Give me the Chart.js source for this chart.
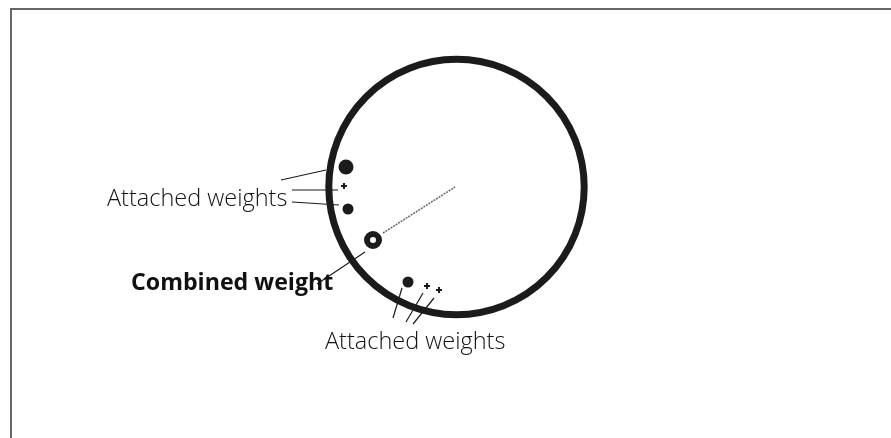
<!DOCTYPE html>
<html>
<head>
<meta charset="utf-8">
<script src="https://cdn.jsdelivr.net/npm/chart.js@4"></script>
<style>
html, body { margin: 0; padding: 0; background: #fff; overflow: hidden; }
#frame { position: absolute; left: 10px; top: 8px; width: 881px; height: 430px; border-top: 2px solid #666; border-left: 2px solid #666; box-sizing: border-box; }
#wrap { position: absolute; left: 0; top: 0; width: 891px; height: 438px; }
</style>
</head>
<body>
<div id="frame"></div>
<div id="wrap"><canvas id="chart" width="891" height="438"></canvas></div>
<script>
const circle = [{ x: 456.5, y: 187 }];
const combined = [{ x: 373, y: 240 }];
const bigWeights = [{ x: 346, y: 167 }];
const midWeights = [{ x: 348, y: 209 }, { x: 408, y: 282 }];
const smallWeights = [{ x: 344, y: 186 }, { x: 427, y: 286 }, { x: 439, y: 290 }];
const needle = [{ x: 383, y: 233 }, { x: 455, y: 187 }];
const leaders = [
    [{ x: 281, y: 180 }, { x: 326, y: 170 }],
    [{ x: 292, y: 190 }, { x: 338, y: 190 }],
    [{ x: 292, y: 202 }, { x: 339, y: 205 }],
    [{ x: 317, y: 284 }, { x: 365, y: 252 }],
    [{ x: 393, y: 318 }, { x: 402, y: 288 }],
    [{ x: 406, y: 322 }, { x: 423, y: 293 }],
    [{ x: 413, y: 324 }, { x: 434, y: 298 }]
];
const labels = [
    { text: 'Attached weights', x: 107, y: 206, font: '300 23.5px "Open Sans"' },
    { text: 'Combined weight', x: 131, y: 290, font: 'bold 23.2px "Open Sans"' },
    { text: 'Attached weights', x: 325, y: 349, font: '300 23.5px "Open Sans"' }
];

const textPlugin = {
    id: 'textLabels',
    afterDatasetsDraw: function (chart) {
        const c = chart.ctx;
        c.save();
        c.fillStyle = '#111';
        c.textBaseline = 'alphabetic';
        labels.forEach(function (l) {
            c.font = l.font;
            c.fillText(l.text, chart.scales.x.getPixelForValue(l.x), chart.scales.y.getPixelForValue(l.y));
        });
        c.restore();
    }
};

function pointSet(data, radius, fill, border, borderWidth, style) {
    return {
        data: data,
        showLine: false,
        clip: false,
        pointRadius: radius,
        pointStyle: style || 'circle',
        backgroundColor: fill,
        borderColor: border,
        borderWidth: borderWidth
    };
}

function lineSet(data, colour, width, dash) {
    return {
        data: data,
        showLine: true,
        pointRadius: 0,
        borderColor: colour,
        borderWidth: width,
        borderDash: dash || []
    };
}

const datasets = [
    pointSet(circle, 127.7, 'transparent', '#1d1a1b', 7),
    lineSet(needle, '#666', 1.5, [2, 1]),
    pointSet(combined, 6, '#fff', '#1d1a1b', 6),
    pointSet(bigWeights, 7.5, '#1d1a1b', '#1d1a1b', 0),
    pointSet(midWeights, 5.5, '#1d1a1b', '#1d1a1b', 0),
    pointSet(smallWeights, 3, '#1d1a1b', '#1d1a1b', 2, 'cross')
];
leaders.forEach(function (l) {
    datasets.push(lineSet(l, '#1d1a1b', 1.2));
});

new Chart(document.getElementById('chart').getContext('2d'), {
    type: 'scatter',
    data: { datasets: datasets },
    options: {
        responsive: false,
        animation: false,
        layout: { padding: 0, autoPadding: false },
        scales: {
            x: { type: 'linear', min: 0, max: 891, display: false },
            y: { type: 'linear', min: 0, max: 438, reverse: true, display: false }
        },
        plugins: {
            legend: { display: false },
            tooltip: { enabled: false },
            title: { display: false }
        }
    },
    plugins: [textPlugin]
});
</script>
</body>
</html>
